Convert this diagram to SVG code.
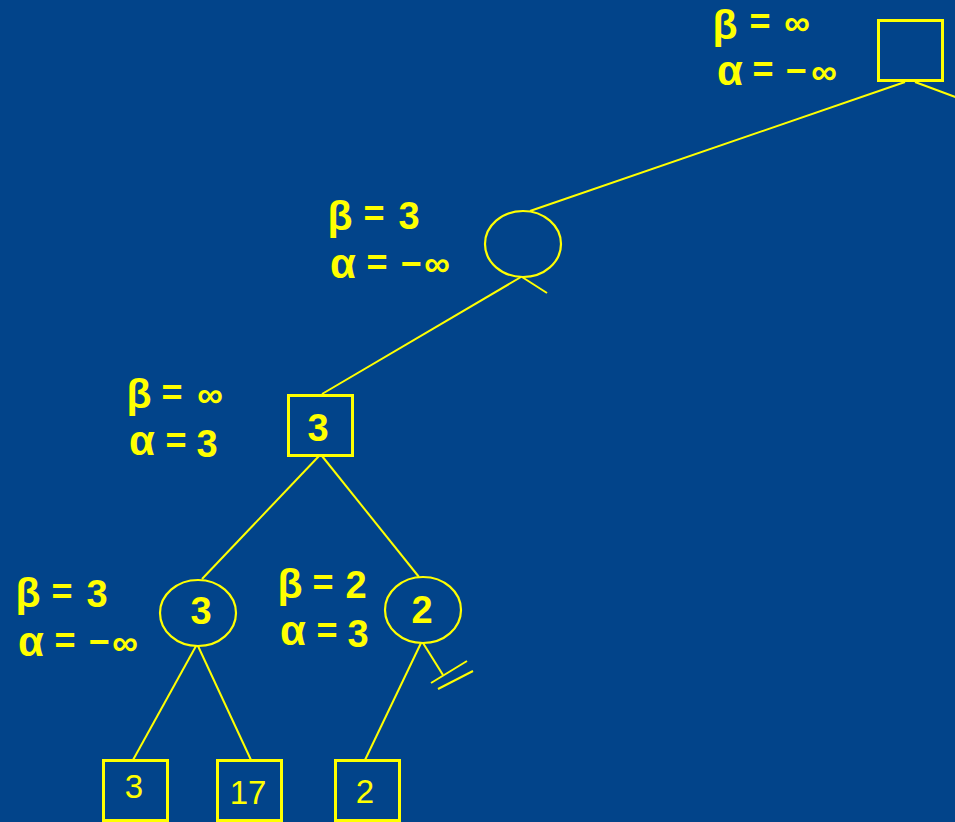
<svg xmlns="http://www.w3.org/2000/svg" width="955" height="822" viewBox="0 0 955 822">
<style>
.bg{fill:#02448A}
.sq{fill:none;stroke:#FFFF00;stroke-width:3}
.ci{fill:none;stroke:#FFFF00;stroke-width:2.2}
.ln{stroke:#FFFF00;stroke-width:2;fill:none}
.lb{font-family:"Liberation Sans",Arial,sans-serif;font-weight:bold;font-size:36px;fill:#FFFF00;text-anchor:middle}
.be{font-size:41px}
.al{font-size:42px}
.dg{font-size:38px}
.nv{font-family:"Liberation Sans",Arial,sans-serif;font-weight:bold;font-size:38px;fill:#FFFF00;text-anchor:middle}
.lv{font-family:"Liberation Sans",Arial,sans-serif;font-size:33px;fill:#FFFF00;text-anchor:middle}
</style>
<rect class="bg" x="0" y="0" width="955" height="822"/>
<g id="connectors">
<line class="ln" x1="905" y1="82" x2="530" y2="211"/>
<line class="ln" x1="915" y1="82" x2="958" y2="98"/>
<line class="ln" x1="521" y1="277" x2="322" y2="394"/>
<line class="ln" x1="522" y1="277" x2="547" y2="293"/>
<line class="ln" x1="319" y1="456" x2="202" y2="579"/>
<line class="ln" x1="322" y1="456" x2="419" y2="577"/>
<line class="ln" x1="196" y1="646" x2="133" y2="760"/>
<line class="ln" x1="198" y1="646" x2="251" y2="760"/>
<line class="ln" x1="421" y1="643" x2="365" y2="760"/>
<line class="ln" x1="423" y1="643" x2="443" y2="675"/>
<line class="ln" x1="431" y1="683" x2="467" y2="661"/>
<line class="ln" x1="438" y1="689" x2="473" y2="671"/>
</g>
<g id="root">
<rect class="sq" x="878.5" y="20.5" width="64" height="60"/>
</g>
<g id="label-root">
<text class="lb"><tspan class="be" x="725" y="39">β</tspan><tspan x="760" y="34">=</tspan><tspan x="797" y="35">∞</tspan></text>
<text class="lb"><tspan class="al" x="730" y="85">α</tspan><tspan x="763" y="82">=</tspan><tspan x="796" y="83">−</tspan><tspan x="824" y="84">∞</tspan></text>
</g>
<g id="min1">
<ellipse class="ci" cx="523" cy="244" rx="38" ry="33"/>
</g>
<g id="label-min1">
<text class="lb"><tspan class="be" x="340" y="230">β</tspan><tspan x="374" y="226">=</tspan><tspan class="dg" x="409" y="229">3</tspan></text>
<text class="lb"><tspan class="al" x="343" y="278">α</tspan><tspan x="377" y="275">=</tspan><tspan x="411" y="276">−</tspan><tspan x="437" y="276">∞</tspan></text>
</g>
<g id="max2">
<rect class="sq" x="288.5" y="395.5" width="64" height="60"/>
<text class="nv" x="318" y="441">3</text>
</g>
<g id="label-max2">
<text class="lb"><tspan class="be" x="139" y="408">β</tspan><tspan x="172" y="405">=</tspan><tspan x="210" y="407">∞</tspan></text>
<text class="lb"><tspan class="al" x="142" y="455">α</tspan><tspan x="176" y="453">=</tspan><tspan class="dg" x="207" y="457">3</tspan></text>
</g>
<g id="min3">
<ellipse class="ci" cx="198" cy="613" rx="38" ry="33"/>
<text class="nv" x="201" y="624">3</text>
</g>
<g id="label-min3">
<text class="lb"><tspan class="be" x="28" y="607">β</tspan><tspan x="62" y="604">=</tspan><tspan class="dg" x="97" y="607">3</tspan></text>
<text class="lb"><tspan class="al" x="31" y="656">α</tspan><tspan x="65" y="653">=</tspan><tspan x="99" y="654">−</tspan><tspan x="125" y="655">∞</tspan></text>
</g>
<g id="min4">
<ellipse class="ci" cx="423" cy="610" rx="38" ry="33"/>
<text class="nv" x="422" y="623">2</text>
</g>
<g id="label-min4">
<text class="lb"><tspan class="be" x="290" y="598">β</tspan><tspan x="323" y="595">=</tspan><tspan class="dg" x="356" y="598">2</tspan></text>
<text class="lb"><tspan class="al" x="293" y="645">α</tspan><tspan x="327" y="643">=</tspan><tspan class="dg" x="358" y="647">3</tspan></text>
</g>
<g id="leaf1">
<rect class="sq" x="103.5" y="760.5" width="64" height="60"/>
<text class="lv" x="134" y="798">3</text>
</g>
<g id="leaf2">
<rect class="sq" x="217.5" y="760.5" width="64" height="60"/>
<text class="lv" x="248" y="804">17</text>
</g>
<g id="leaf3">
<rect class="sq" x="335.5" y="760.5" width="64" height="60"/>
<text class="lv" x="365" y="803">2</text>
</g>
</svg>
